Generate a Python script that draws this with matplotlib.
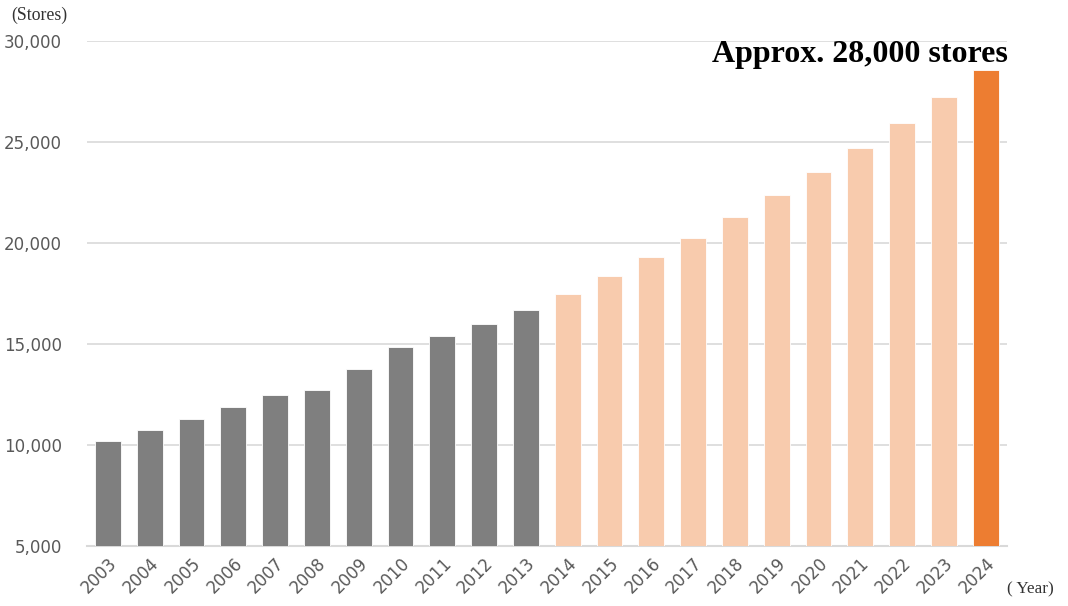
import numpy as np
import matplotlib.pyplot as plt

# store counts by year
years = ['2003', '2004', '2005', '2006', '2007', '2008', '2009', '2010',
         '2011', '2012', '2013', '2014', '2015', '2016', '2017', '2018',
         '2019', '2020', '2021', '2022', '2023', '2024']
stores = [10220, 10730, 11310, 11860, 12500, 12720, 13760, 14850,
          15410, 15990, 16700, 17480, 18380, 19300, 20260, 21310,
          22370, 23510, 24690, 25960, 27240, 28580]

y_ticks = [5000, 10000, 15000, 20000, 25000, 30000]

# colour groups: past (grey), recent (light orange), latest (orange)
colors = ['#7f7f7f'] * 11 + ['#f8cbad'] * 10 + ['#ed7d31']

fig = plt.figure(figsize=(10.68, 6.06), dpi=100)
ax = fig.add_axes([0.0815, 0.099, 0.861, 0.833])

x = np.arange(len(years))
ax.bar(x, stores, width=0.62, color=colors, edgecolor='white', linewidth=0.6,
       zorder=3)

ax.set_ylim(5000, 30000)
ax.set_xlim(-0.5, len(years) - 0.5)
ax.set_yticks(y_ticks)
ax.set_yticklabels(['{:,}'.format(v) for v in y_ticks])
ax.set_xticks(x)
ax.set_xticklabels(years, rotation=45, ha='right', rotation_mode='anchor')

ax.grid(axis='y', color='#d9d9d9', linewidth=1.2, zorder=0)
for side in ['top', 'right', 'left']:
    ax.spines[side].set_visible(False)
ax.spines['bottom'].set_color('#d9d9d9')
ax.spines['bottom'].set_linewidth(1.5)
ax.tick_params(axis='both', length=0, labelsize=12, colors='#595959')
ax.tick_params(axis='y', pad=18)
ax.tick_params(axis='x', pad=6)

fig.text(0.011, 0.975, '(Stores)', family='Liberation Serif', fontsize=12.8,
         ha='left', va='center', color='#333333')
fig.text(0.943, 0.027, '( Year)', family='Liberation Serif', fontsize=12.3,
         ha='left', va='center', color='#333333')
fig.text(0.944, 0.898, 'Approx. 28,000 stores', family='Liberation Serif',
         fontsize=23, fontweight='bold', ha='right', va='baseline',
         color='black')

fig.savefig('out.png', dpi=100)
